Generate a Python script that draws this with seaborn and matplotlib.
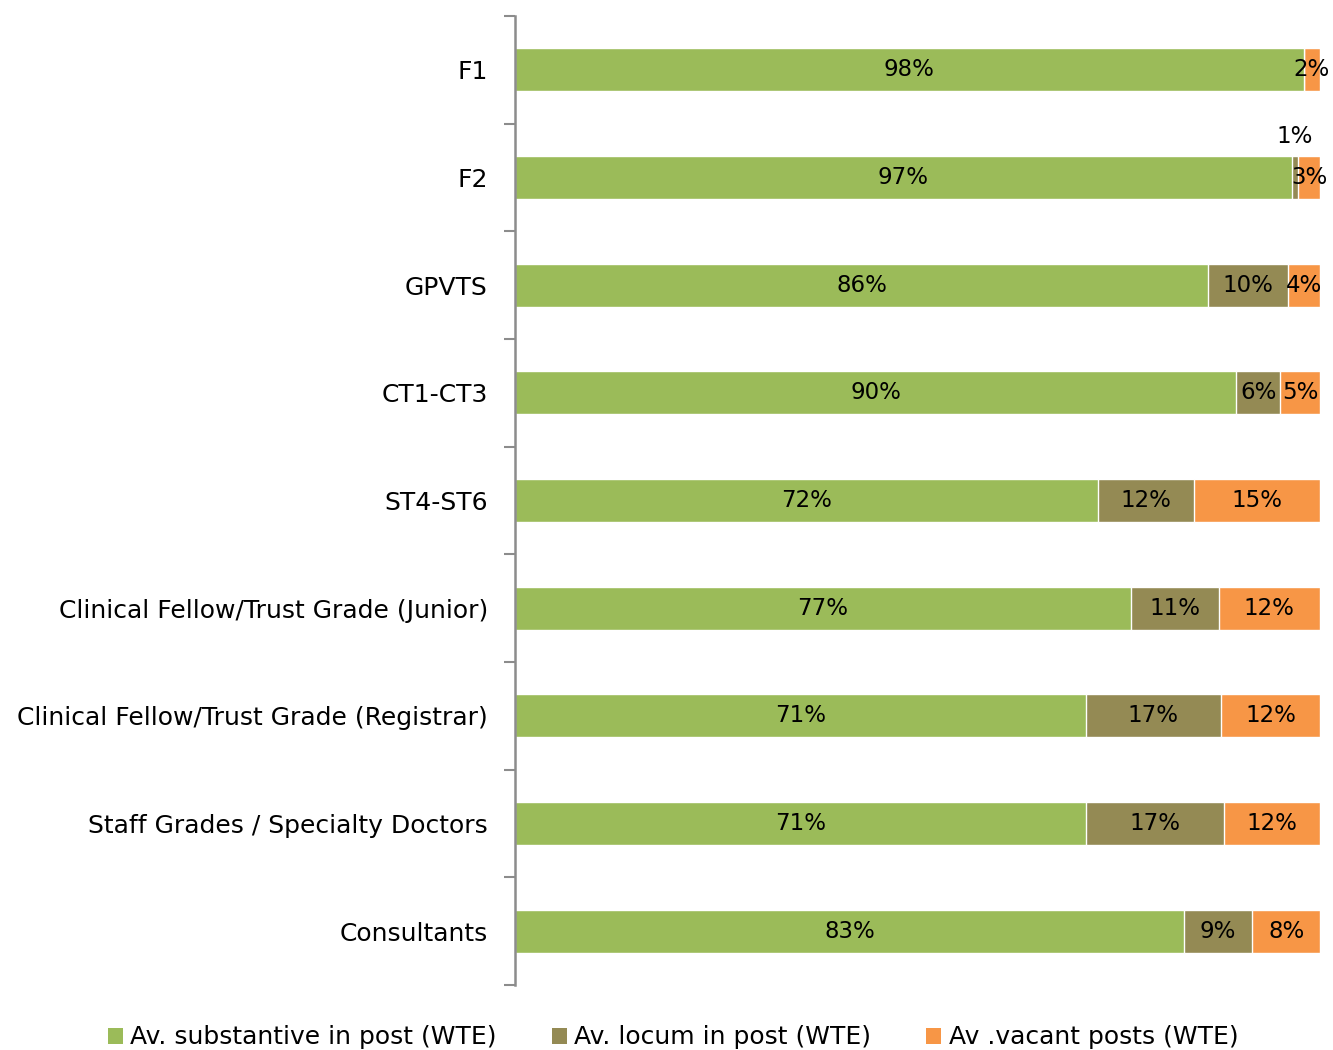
"""Stacked staffing bars: substantive / locum / vacant share by grade."""
import matplotlib
matplotlib.use("Agg")
import matplotlib.pyplot as plt
from matplotlib.patches import Patch
import numpy as np
import pandas as pd
import seaborn as sns

grades = [
    "F1",
    "F2",
    "GPVTS",
    "CT1-CT3",
    "ST4-ST6",
    "Clinical Fellow/Trust Grade (Junior)",
    "Clinical Fellow/Trust Grade (Registrar)",
    "Staff Grades / Specialty Doctors",
    "Consultants",
]
substantive = [98.0, 96.5, 86.1, 89.6, 72.4, 76.5, 70.9, 71.0, 83.1]
locum = [0.0, 0.8, 9.9, 5.5, 12.0, 10.9, 16.8, 17.1, 8.5]
vacant = [2.0, 2.7, 4.0, 4.9, 15.6, 12.6, 12.3, 11.9, 8.4]
sub_labels = ["98%", "97%", "86%", "90%", "72%", "77%", "71%", "71%", "83%"]
loc_labels = ["", "1%", "10%", "6%", "12%", "11%", "17%", "17%", "9%"]
vac_labels = ["2%", "3%", "4%", "5%", "15%", "12%", "12%", "12%", "8%"]

series_names = ["Av. substantive in post (WTE)", "Av. locum in post (WTE)", "Av .vacant posts (WTE)"]
colors = ["#9BBB59", "#948A54", "#F79646"]

sns.set_theme(style="white")
plt.rcParams["font.family"] = ["DejaVu Sans"]

df = pd.DataFrame({"grade": grades, "sub": substantive, "loc": locum, "vac": vacant})
df["c1"] = df["sub"]
df["c2"] = df["sub"] + df["loc"]
df["c3"] = df["c2"] + df["vac"]

fig = plt.figure(figsize=(13.33, 10.5), dpi=100)
ax = fig.add_axes([0.3863, 0.0619, 0.6039, 0.9229])

# back to front so the cumulative bars read as stacked segments
for col, color in zip(["c3", "c2", "c1"], colors[::-1]):
    sns.barplot(data=df, y="grade", x=col, orient="h", color=color,
                saturation=1, width=0.4, ax=ax, order=grades)

fs_cat = 18
fs_val = 16.5
for i in range(len(grades)):
    s, l, v = substantive[i], locum[i], vacant[i]
    ax.text(s / 2, i, sub_labels[i], ha="center", va="center", fontsize=fs_val, color="black")
    if loc_labels[i]:
        if l < 2:
            ax.text(s + l / 2, i - 0.38, loc_labels[i], ha="center", va="center",
                    fontsize=fs_val, color="black")
        else:
            ax.text(s + l / 2, i, loc_labels[i], ha="center", va="center",
                    fontsize=fs_val, color="black")
    ax.text(s + l + v / 2, i, vac_labels[i], ha="center", va="center", fontsize=fs_val, color="black")

ax.set_xlim(0, 100)
ax.set_ylim(len(grades) - 0.5, -0.5)
ax.set_xlabel("")
ax.set_ylabel("")
ax.set_xticks([])

# category boundary ticks on the left spine
ax.set_yticks(np.arange(-0.5, len(grades), 1.0))
ax.set_yticklabels([])
ax.set_yticks(np.arange(len(grades)), minor=True)
ax.set_yticklabels(grades, minor=True, fontsize=fs_cat)
ax.tick_params(axis="y", which="major", left=True, length=8, width=1.5,
               color="#8C8C8C", direction="out")
ax.tick_params(axis="y", which="minor", left=False, length=0, pad=19.5, labelcolor="black")

for side in ["top", "right", "bottom"]:
    ax.spines[side].set_visible(False)
ax.spines["left"].set_color("#8C8C8C")
ax.spines["left"].set_linewidth(1.8)

handles = [Patch(facecolor=c, edgecolor="none") for c in colors]
leg = fig.legend(handles, series_names, loc="center", bbox_to_anchor=(0.505, 0.012),
                 ncol=3, frameon=False, fontsize=fs_cat, handlelength=0.6, handleheight=0.6,
                 handletextpad=0.3, columnspacing=2.2)
for t in leg.get_texts():
    t.set_color("black")

fig.savefig("out.png", dpi=100)
plt.close(fig)
